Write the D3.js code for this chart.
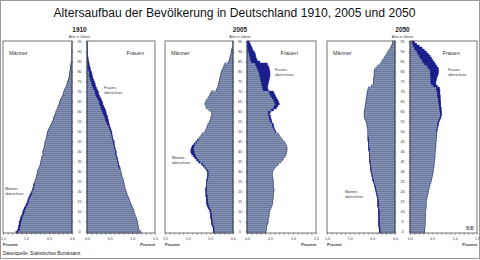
<!DOCTYPE html>
<html>
<head>
<meta charset="utf-8">
<script src="https://cdn.jsdelivr.net/npm/d3@7"></script>
<style>
  body { margin: 0; background: #fff; }
  svg { display: block; font-family: "Liberation Sans", Arial, sans-serif; }
</style>
</head>
<body>
<svg id="chart" width="480" height="260"></svg>
<script>
// ages 0..95, percent of total population per single year of age
const ages = d3.range(0, 96);

const male1910 = [
  1.22, 1.18, 1.17, 1.16, 1.15, 1.15, 1.13, 1.12, 1.10, 1.08,
  1.07, 1.05, 1.04, 1.01, 0.99, 0.97, 0.96, 0.94, 0.92, 0.90,
  0.88, 0.86, 0.85, 0.84, 0.83, 0.81, 0.80, 0.78, 0.77, 0.76,
  0.75, 0.74, 0.72, 0.70, 0.69, 0.68, 0.67, 0.66, 0.65, 0.62,
  0.64, 0.62, 0.61, 0.60, 0.59, 0.59, 0.57, 0.56, 0.55, 0.54,
  0.53, 0.51, 0.49, 0.47, 0.45, 0.43, 0.41, 0.40, 0.38, 0.36,
  0.35, 0.33, 0.31, 0.30, 0.28, 0.27, 0.25, 0.23, 0.21, 0.19,
  0.18, 0.16, 0.14, 0.12, 0.11, 0.10, 0.08, 0.07, 0.06, 0.05,
  0.05, 0.04, 0.03, 0.03, 0.02, 0.02, 0.015, 0.01, 0.01, 0.008,
  0.006, 0.004, 0.003, 0.002, 0.001, 0.001
];
const female1910 = [
  1.19, 1.15, 1.14, 1.13, 1.12, 1.12, 1.10, 1.09, 1.07, 1.05,
  1.04, 1.03, 1.01, 0.99, 0.97, 0.95, 0.94, 0.92, 0.90, 0.88,
  0.87, 0.85, 0.84, 0.83, 0.82, 0.81, 0.80, 0.78, 0.77, 0.76,
  0.75, 0.74, 0.73, 0.71, 0.70, 0.69, 0.68, 0.67, 0.66, 0.64,
  0.65, 0.63, 0.62, 0.61, 0.60, 0.60, 0.58, 0.57, 0.56, 0.55,
  0.55, 0.53, 0.52, 0.50, 0.49, 0.48, 0.47, 0.46, 0.45, 0.43,
  0.42, 0.41, 0.39, 0.37, 0.35, 0.34, 0.32, 0.30, 0.28, 0.26,
  0.25, 0.23, 0.21, 0.19, 0.18, 0.17, 0.15, 0.13, 0.12, 0.11,
  0.10, 0.08, 0.07, 0.06, 0.05, 0.04, 0.03, 0.025, 0.02, 0.015,
  0.01, 0.008, 0.006, 0.004, 0.003, 0.002
];
const male2005 = [
  0.43, 0.44, 0.44, 0.45, 0.47, 0.48, 0.48, 0.49, 0.50, 0.50,
  0.51, 0.52, 0.55, 0.57, 0.58, 0.59, 0.59, 0.59, 0.60, 0.60,
  0.60, 0.61, 0.60, 0.59, 0.59, 0.59, 0.58, 0.57, 0.56, 0.56,
  0.56, 0.58, 0.62, 0.66, 0.70, 0.76, 0.80, 0.84, 0.88, 0.91,
  0.93, 0.93, 0.92, 0.90, 0.86, 0.82, 0.78, 0.74, 0.71, 0.68,
  0.62, 0.60, 0.58, 0.56, 0.55, 0.52, 0.50, 0.49, 0.48, 0.46,
  0.47, 0.53, 0.58, 0.60, 0.62, 0.60, 0.58, 0.55, 0.52, 0.50,
  0.48, 0.36, 0.34, 0.33, 0.32, 0.31, 0.30, 0.29, 0.28, 0.27,
  0.26, 0.24, 0.22, 0.20, 0.18, 0.10, 0.08, 0.07, 0.06, 0.05,
  0.04, 0.03, 0.02, 0.015, 0.01, 0.008
];
const female2005 = [
  0.41, 0.42, 0.42, 0.43, 0.45, 0.46, 0.46, 0.47, 0.48, 0.48,
  0.49, 0.50, 0.52, 0.54, 0.55, 0.56, 0.56, 0.57, 0.57, 0.58,
  0.58, 0.59, 0.58, 0.58, 0.58, 0.58, 0.57, 0.56, 0.55, 0.55,
  0.55, 0.57, 0.60, 0.64, 0.68, 0.73, 0.77, 0.80, 0.83, 0.85,
  0.86, 0.87, 0.87, 0.86, 0.84, 0.81, 0.77, 0.74, 0.71, 0.68,
  0.63, 0.61, 0.59, 0.58, 0.57, 0.54, 0.53, 0.52, 0.51, 0.49,
  0.51, 0.58, 0.64, 0.67, 0.70, 0.69, 0.67, 0.64, 0.62, 0.60,
  0.58, 0.46, 0.45, 0.45, 0.46, 0.47, 0.48, 0.49, 0.50, 0.50,
  0.50, 0.49, 0.48, 0.46, 0.44, 0.28, 0.22, 0.20, 0.19, 0.18,
  0.16, 0.13, 0.11, 0.09, 0.07, 0.05
];
const male2050 = [
  0.35, 0.35, 0.35, 0.36, 0.36, 0.36, 0.36, 0.36, 0.37, 0.37,
  0.37, 0.37, 0.37, 0.38, 0.38, 0.38, 0.38, 0.39, 0.40, 0.41,
  0.42, 0.43, 0.44, 0.45, 0.46, 0.48, 0.49, 0.50, 0.51, 0.52,
  0.53, 0.54, 0.54, 0.55, 0.55, 0.56, 0.56, 0.56, 0.57, 0.57,
  0.57, 0.58, 0.58, 0.59, 0.59, 0.59, 0.60, 0.60, 0.60, 0.60,
  0.60, 0.60, 0.61, 0.62, 0.62, 0.63, 0.65, 0.67, 0.68, 0.68,
  0.68, 0.67, 0.66, 0.66, 0.65, 0.64, 0.64, 0.63, 0.62, 0.62,
  0.61, 0.60, 0.59, 0.52, 0.48, 0.47, 0.47, 0.47, 0.46, 0.46,
  0.46, 0.45, 0.42, 0.38, 0.33, 0.29, 0.27, 0.24, 0.21, 0.18,
  0.16, 0.13, 0.10, 0.08, 0.06, 0.05
];
const female2050 = [
  0.33, 0.33, 0.33, 0.34, 0.34, 0.34, 0.34, 0.35, 0.35, 0.35,
  0.35, 0.35, 0.36, 0.36, 0.36, 0.37, 0.37, 0.38, 0.39, 0.40,
  0.41, 0.42, 0.43, 0.44, 0.45, 0.47, 0.48, 0.49, 0.50, 0.51,
  0.52, 0.53, 0.53, 0.54, 0.54, 0.55, 0.55, 0.56, 0.56, 0.56,
  0.57, 0.57, 0.57, 0.58, 0.58, 0.58, 0.59, 0.59, 0.60, 0.60,
  0.60, 0.61, 0.62, 0.63, 0.64, 0.65, 0.67, 0.69, 0.70, 0.71,
  0.71, 0.70, 0.70, 0.69, 0.69, 0.69, 0.68, 0.68, 0.68, 0.67,
  0.67, 0.67, 0.66, 0.61, 0.58, 0.58, 0.59, 0.60, 0.62, 0.63,
  0.64, 0.64, 0.63, 0.60, 0.57, 0.54, 0.51, 0.48, 0.45, 0.41,
  0.37, 0.32, 0.27, 0.21, 0.15, 0.10
];

const years = ["1910", "2005", "2050"];
const percentTicks = [0, 0.5, 1.0, 1.5];
const ageTicks = d3.range(0, 96, 5);

const titleText = "Altersaufbau der Bevölkerung in Deutschland 1910, 2005 und 2050";
const sourceText = "Datenquelle: Statistisches Bundesamt";

// layout of the three pyramids
const panels = [
  { year: years[0], male: male1910, female: female1910, l: [3, 72], r: [87, 155],
    frauenAt: [144, 55], maennerAt: [9, 55], fUeb: [104, 89], mUeb: [5, 190] },
  { year: years[1], male: male2005, female: female2005, l: [165, 233], r: [247, 316],
    frauenAt: [298, 55], maennerAt: [171, 55], fUeb: [275, 71], mUeb: [172, 159] },
  { year: years[2], male: male2050, female: female2050, l: [327, 395], r: [410, 477],
    frauenAt: [460, 55], maennerAt: [333, 55], fUeb: [448, 71], mUeb: [345, 193] }
];

const light = "#aebcd9", lineDark = "#2b3766", excess = "#1d1f8c", frame = "#3a3a3a";
const fmt = d3.formatLocale({ decimal: ",", thousands: ".", grouping: [3], currency: ["", "€"] }).format(".1f");

const svg = d3.select("#chart");
svg.append("rect").attr("x", 0.5).attr("y", 0.5).attr("width", 479).attr("height", 258)
  .attr("fill", "#fff").attr("stroke", "#9a9a9a").attr("stroke-width", 1);

svg.append("text").attr("x", 234.5).attr("y", 17).attr("text-anchor", "middle")
  .attr("font-size", 12.5).attr("textLength", 362).attr("lengthAdjust", "spacingAndGlyphs")
  .attr("fill", "#111").text(titleText);

const y = d3.scaleLinear().domain([0, 96]).range([233, 41]);

panels.forEach(p => {
  const g = svg.append("g");
  const xL = d3.scaleLinear().domain([0, 1.5]).range([p.l[1], p.l[0]]);
  const xR = d3.scaleLinear().domain([0, 1.5]).range([p.r[0], p.r[1]]);
  const cx = (p.l[1] + p.r[0]) / 2;
  const rows = ages.map(a => ({ age: a, m: p.male[a], f: p.female[a] }));

  // male side: common part light, surplus dark
  g.append("g").selectAll("rect").data(rows).join("rect")
    .attr("x", d => xL(Math.min(d.m, d.f))).attr("y", d => y(d.age + 1))
    .attr("width", d => xL(0) - xL(Math.min(d.m, d.f))).attr("height", 2)
    .attr("fill", light).attr("stroke", lineDark).attr("stroke-width", 0.6);
  g.append("g").selectAll("rect").data(rows.filter(d => d.m > d.f)).join("rect")
    .attr("x", d => xL(d.m)).attr("y", d => y(d.age + 1))
    .attr("width", d => xL(d.f) - xL(d.m)).attr("height", 2)
    .attr("fill", excess).attr("stroke", excess).attr("stroke-width", 0.4);

  // female side
  g.append("g").selectAll("rect").data(rows).join("rect")
    .attr("x", xR(0)).attr("y", d => y(d.age + 1))
    .attr("width", d => xR(Math.min(d.m, d.f)) - xR(0)).attr("height", 2)
    .attr("fill", light).attr("stroke", lineDark).attr("stroke-width", 0.6);
  g.append("g").selectAll("rect").data(rows.filter(d => d.f > d.m)).join("rect")
    .attr("x", d => xR(d.m)).attr("y", d => y(d.age + 1))
    .attr("width", d => xR(d.f) - xR(d.m)).attr("height", 2)
    .attr("fill", excess).attr("stroke", excess).attr("stroke-width", 0.4);

  // frames of both halves
  [p.l, p.r].forEach(r => {
    g.append("rect").attr("x", r[0]).attr("y", y(96)).attr("width", r[1] - r[0])
      .attr("height", y(0) - y(96)).attr("fill", "none").attr("stroke", frame).attr("stroke-width", 0.7);
  });

  // bottom axes
  const minor = d3.range(0, 1.51, 0.1);
  [xL, xR].forEach(x => {
    const ax = g.append("g").attr("transform", `translate(0,${y(0)})`)
      .call(d3.axisBottom(x).tickValues(minor).tickSize(1.8).tickFormat(""));
    ax.select(".domain").remove();
    ax.selectAll("line").attr("stroke", frame).attr("stroke-width", 0.5);
    const lab = g.append("g").attr("transform", `translate(0,${y(0)})`)
      .call(d3.axisBottom(x).tickValues(percentTicks).tickSize(0).tickPadding(4.5).tickFormat(fmt));
    lab.select(".domain").remove();
    lab.selectAll("text").attr("font-size", 3.6).attr("fill", "#333").attr("font-family", null);
  });
  g.append("text").attr("x", p.l[0]).attr("y", 245.5).attr("font-size", 4).attr("font-weight", "bold")
    .attr("fill", "#333").text("Prozent");
  g.append("text").attr("x", p.r[1]).attr("y", 245.5).attr("font-size", 4).attr("font-weight", "bold")
    .attr("text-anchor", "end").attr("fill", "#333").text("Prozent");

  // age labels between halves
  g.append("g").selectAll("text").data(ageTicks).join("text")
    .attr("x", cx).attr("y", d => y(d + 0.5) + 1.3).attr("text-anchor", "middle")
    .attr("font-size", 3.8).attr("fill", "#333").text(d => d);
  g.append("g").selectAll("line").data(ageTicks).join("line")
    .attr("x1", p.r[0] - 1.5).attr("x2", p.r[0]).attr("y1", d => y(d + 0.5)).attr("y2", d => y(d + 0.5))
    .attr("stroke", frame).attr("stroke-width", 0.5);
  g.append("g").selectAll("line").data(ageTicks).join("line")
    .attr("x1", p.l[1]).attr("x2", p.l[1] + 1.5).attr("y1", d => y(d + 0.5)).attr("y2", d => y(d + 0.5))
    .attr("stroke", frame).attr("stroke-width", 0.5);

  g.append("text").attr("x", cx).attr("y", 32).attr("text-anchor", "middle")
    .attr("font-size", 6.5).attr("font-weight", "bold").attr("fill", "#222").text(p.year);
  g.append("text").attr("x", cx).attr("y", 37.5).attr("text-anchor", "middle")
    .attr("font-size", 3.3).attr("fill", "#333").text("Alter in Jahren");

  g.append("text").attr("x", p.maennerAt[0]).attr("y", p.maennerAt[1])
    .attr("font-size", 5.5).attr("fill", "#333").text("Männer");
  g.append("text").attr("x", p.frauenAt[0]).attr("y", p.frauenAt[1]).attr("text-anchor", "end")
    .attr("font-size", 5.5).attr("fill", "#333").text("Frauen");

  const note = (pos, a, b) => {
    const t = g.append("text").attr("font-size", 3.6).attr("fill", "#333");
    t.append("tspan").attr("x", pos[0]).attr("y", pos[1]).text(a);
    t.append("tspan").attr("x", pos[0]).attr("y", pos[1] + 5).text(b);
  };
  note(p.fUeb, "Frauen-", "überschuss");
  note(p.mUeb, "Männer-", "überschuss");
});

svg.append("text").attr("x", 470).attr("y", 230).attr("text-anchor", "middle")
  .attr("font-size", 5).attr("fill", "#333").text("BiB");
svg.append("text").attr("x", 3).attr("y", 255).attr("font-size", 4.6)
  .attr("fill", "#222").text(sourceText);
</script>
</body>
</html>
